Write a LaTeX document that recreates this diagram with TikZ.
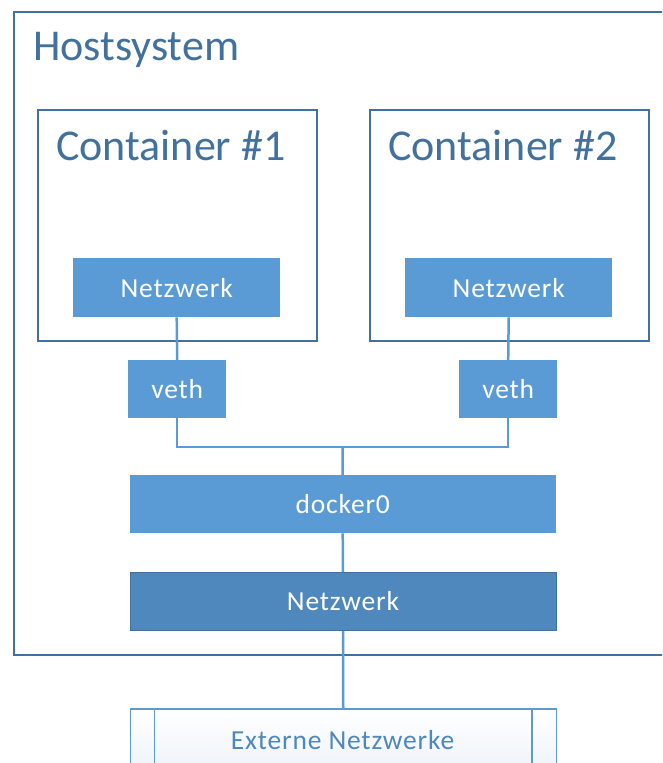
\documentclass[tikz,border=0pt]{standalone}
\usepackage{fontspec}
\setmainfont{Carlito}
\usetikzlibrary{positioning}
\definecolor{frameblue}{HTML}{41719C}
\definecolor{boxblue}{HTML}{5B9BD5}
\definecolor{hostblue}{HTML}{4F88BC}
\definecolor{extfill}{HTML}{E6EEF8}
\definecolor{exttext}{HTML}{4F88BC}
\tikzset{
  frame/.style={draw=frameblue, line width=1.5pt, anchor=north west, inner sep=0pt},
  box/.style={fill=boxblue, text=white,
    font=\fontsize{27.5}{30}\selectfont\addfontfeature{LetterSpace=3},
    inner sep=0pt, anchor=north west},
  title/.style={text=frameblue, font=\fontsize{44}{48}\selectfont,
    anchor=base west, inner sep=0pt},
  link/.style={draw=boxblue, line width=2.5pt}
}
\begin{document}
\begin{tikzpicture}[x=1pt, y=-1pt]
\useasboundingbox (0,0) rectangle (662,763);
\clip (0,0) rectangle (662,763);
% host and containers
\node[frame, minimum width=680, minimum height=643] (host) at (13,11) {};
\node[title] (hosttitle) at (33,60) {Hostsystem};
\node[frame, minimum width=279, minimum height=231] (c1) at (37,109) {};
\node[title] (c1title) at (56,160) {Container \#1};
\node[frame, minimum width=279, minimum height=231] (c2) at (369,109) {};
\node[title] (c2title) at (388,160) {Container \#2};
\node[box, minimum width=207, minimum height=59] (n1) at (73,258) {Netzwerk};
\node[box, minimum width=207, minimum height=59] (n2) at (405,258) {Netzwerk};
\node[box, minimum width=98, minimum height=58] (v1) at (128,360) {veth};
\node[box, minimum width=98, minimum height=58] (v2) at (459,360) {veth};
% bridge and host network
\node[box, minimum width=426, minimum height=58] (docker) at (129.5,475) {docker0};
\node[box, fill=hostblue, draw=frameblue, line width=1pt,
  minimum width=426, minimum height=58] (hnet) at (129.5,572) {Netzwerk};
\node[draw=boxblue, line width=1.5pt, top color=white, bottom color=extfill,
  anchor=north west, minimum width=426, minimum height=90] (ext) at (129.5,708) {};
\draw[boxblue, line width=1.5pt] ([xshift=25pt]ext.north west) -- ([xshift=25pt]ext.south west);
\draw[boxblue, line width=1.5pt] ([xshift=-25pt]ext.north east) -- ([xshift=-25pt]ext.south east);
\node[text=exttext, font=\fontsize{27.5}{30}\selectfont\addfontfeature{LetterSpace=3},
  inner sep=0pt] (extlabel) at (342.5,740) {Externe Netzwerke};
% connectors
\coordinate (bus) at (342.5,447);
\draw[link] (n1.south) -- (v1.north);
\draw[link] (n2.south) -- (v2.north);
\draw[link] (v1.south) |- (bus) -| (v2.south);
\draw[link] (bus) -- (docker.north);
\draw[link] (docker.south) -- (hnet.north);
\draw[link] (hnet.south) -- (ext.north);
\end{tikzpicture}
\end{document}
